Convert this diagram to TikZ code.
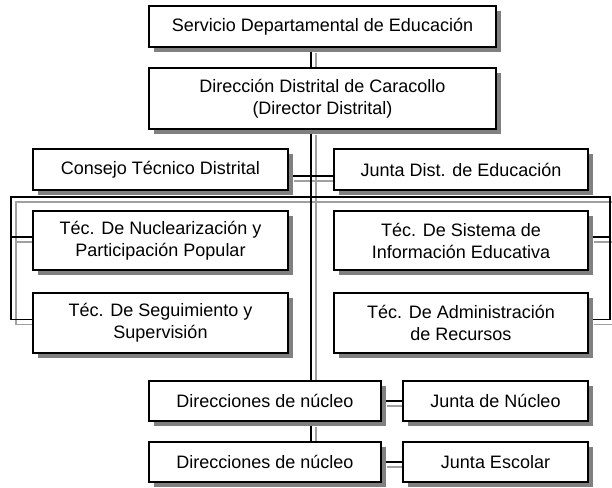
\documentclass[tikz,border=0pt]{standalone}
\usepackage{fontspec}
\setmainfont{Liberation Sans}
\usetikzlibrary{calc}
\pgfdeclarelayer{bgl}
\pgfdeclarelayer{glines}
\pgfdeclarelayer{blines}
\pgfsetlayers{bgl,glines,blines,main}
\definecolor{lineshade}{RGB}{160,160,160}
\newcommand\allconnectors[1]{%
  \draw[#1] (serv.south -| sp) -- (dir.north -| sp);
  \draw[#1] (dir.south -| sp) -- (dn1.north -| sp);
  \draw[#1] (dn1.south -| sp) -- (dn2.north -| sp);
  \draw[#1] (cons.east |- cj) -- (jdist.west |- cj);
  \draw[#1] ([yshift=3.5pt]segu.west) -| (L) -- (R) |- ([yshift=3.5pt]admin.east);
  \draw[#1] ([yshift=3.5pt]nucl.west) -- ([yshift=3.5pt]nucl.west -| L);
  \draw[#1] ([yshift=3.5pt]sist.east) -- ([yshift=3.5pt]sist.east -| R);
  \draw[#1] (dn1.east) -- (jn.west);
  \draw[#1] (dn2.east) -- (je.west);
}
\begin{document}
\begin{tikzpicture}[x=1pt,y=-1pt,
  box/.style={draw=black, line width=1.6pt, fill=white, align=center,
    inner sep=0pt, font=\fontsize{18}{22}\selectfont},
  conn/.style={line width=1.8pt, draw=black},
  gconn/.style={line width=1.8pt, draw=lineshade}]
\begin{pgfonlayer}{bgl}
\fill[white] (0,0) rectangle (612,487);
\end{pgfonlayer}
\useasboundingbox (0,0) rectangle (612,487);

\node[box, minimum width=347pt, minimum height=41pt] (serv) at (322.5,26.5) {Servicio Departamental de Educación};
\node[box, minimum width=347pt, minimum height=61pt] (dir) at (322.5,98.5) {Dirección Distrital de Caracollo\\(Director Distrital)};
\node[box, minimum width=255pt, minimum height=41pt] (cons) at (160.5,169.5) {Consejo Técnico Distrital};
\node[box, minimum width=254pt, minimum height=41pt] (jdist) at (461,169.5) {Junta Dist. de Educación};
\node[box, minimum width=255pt, minimum height=59pt] (nucl) at (160.5,240.5) {Téc. De Nuclearización y\\Participación Popular};
\node[box, minimum width=254pt, minimum height=59pt] (sist) at (461,240.5) {Téc. De Sistema de\\Información Educativa};
\node[box, minimum width=255pt, minimum height=60pt] (segu) at (160.5,323) {Téc. De Seguimiento y\\Supervisión};
\node[box, minimum width=254pt, minimum height=60pt] (admin) at (461,323) {Téc. De Administración\\de Recursos};
\node[box, minimum width=232pt, minimum height=40pt] (dn1) at (265,401) {Direcciones de núcleo};
\node[box, minimum width=185pt, minimum height=40pt] (jn) at (495.5,401) {Junta de Núcleo};
\node[box, minimum width=232pt, minimum height=40pt] (dn2) at (265,462) {Direcciones de núcleo};
\node[box, minimum width=185pt, minimum height=40pt] (je) at (495.5,462) {Junta Escolar};

\coordinate (sp) at (311,0);
\coordinate (cj) at (0,176);
\coordinate (L) at (11,197);
\coordinate (R) at (610,197);

% box shadows (right and bottom strips)
\fill[gray] (496.8,11) rectangle (501,52);   \fill[gray] (154,47.8) rectangle (501,52);
\fill[gray] (496.8,73) rectangle (501,134);  \fill[gray] (154,129.8) rectangle (501,134);
\fill[gray] (288.8,154) rectangle (293,195); \fill[gray] (38,190.8) rectangle (293,195);
\fill[gray] (588.8,154) rectangle (593,195); \fill[gray] (339,190.8) rectangle (593,195);
\fill[gray] (288.8,216) rectangle (293,275); \fill[gray] (38,270.8) rectangle (293,275);
\fill[gray] (588.8,216) rectangle (593,275); \fill[gray] (339,270.8) rectangle (593,275);
\fill[gray] (288.8,298) rectangle (293,358); \fill[gray] (38,353.8) rectangle (293,358);
\fill[gray] (588.8,298) rectangle (593,358); \fill[gray] (339,353.8) rectangle (593,358);
\fill[gray] (381.8,386) rectangle (386,426); \fill[gray] (154,421.8) rectangle (386,426);
\fill[gray] (588.8,386) rectangle (593,426); \fill[gray] (408,421.8) rectangle (593,426);
\fill[gray] (381.8,447) rectangle (386,487); \fill[gray] (154,482.8) rectangle (386,487);
\fill[gray] (588.8,447) rectangle (593,487); \fill[gray] (408,482.8) rectangle (593,487);

\begin{pgfonlayer}{blines}
  \allconnectors{conn}
\end{pgfonlayer}
\begin{pgfonlayer}{glines}
  \begin{scope}[transform canvas={xshift=5pt,yshift=-5pt}]
    \allconnectors{gconn}
  \end{scope}
\end{pgfonlayer}
\end{tikzpicture}
\end{document}
